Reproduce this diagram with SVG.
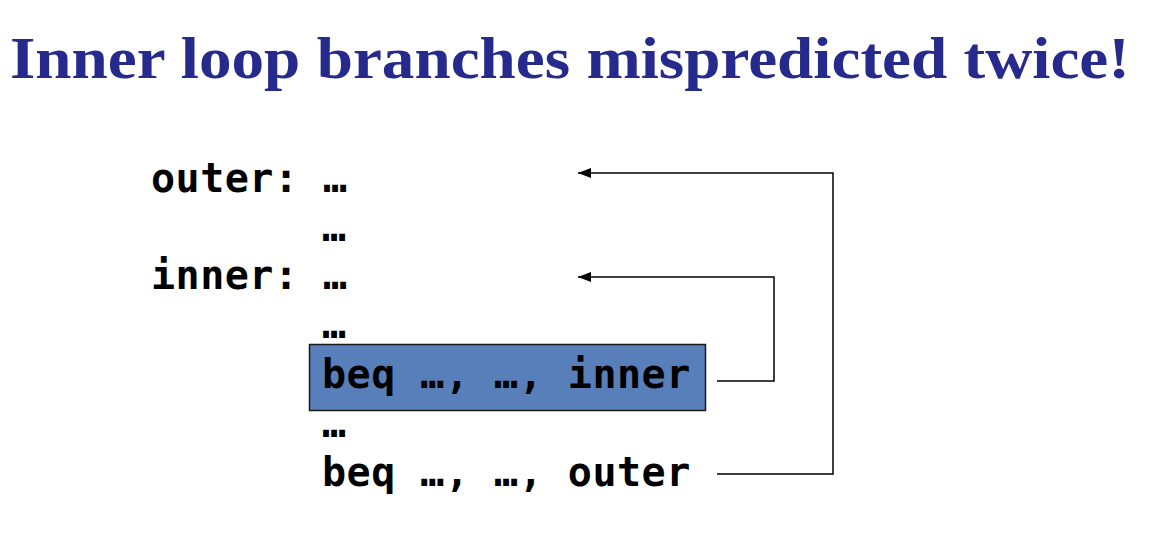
<svg xmlns="http://www.w3.org/2000/svg" width="1176" height="534" viewBox="0 0 1176 534">
<defs>
<style>
.title{font-family:"Liberation Serif","Times New Roman",serif;font-weight:bold;font-size:60px;fill:#262a8c}
.code{font-family:"DejaVu Sans Mono","Liberation Mono",monospace;font-weight:bold;font-size:40px;letter-spacing:0.5px;fill:#000;white-space:pre}
.conn{fill:none;stroke:#000;stroke-width:1.5}
</style>
<marker id="ah" markerWidth="14" markerHeight="12" refX="13" refY="6" orient="auto" markerUnits="userSpaceOnUse">
<path d="M0,1 L13,6 L0,11 Z" fill="#000"/>
</marker>
</defs>
<rect width="1176" height="534" fill="#fff"/>
<text class="title" x="10" y="78" textLength="1120" lengthAdjust="spacingAndGlyphs">Inner loop branches mispredicted twice!</text>
<g id="line-outer"><text class="code" x="151" y="192" xml:space="preserve">outer: …</text></g>
<g id="line-dots1"><text class="code" x="322" y="241">…</text></g>
<g id="line-inner"><text class="code" x="151" y="289" xml:space="preserve">inner: …</text></g>
<g id="line-dots2"><text class="code" x="322" y="338">…</text></g>
<g id="beq-inner">
<rect x="309.5" y="344.5" width="396" height="66" fill="#587fb9" stroke="#1a1a1a" stroke-width="1.5"/>
<text class="code" x="322" y="388" xml:space="preserve">beq …, …, inner</text>
</g>
<g id="line-dots3"><text class="code" x="322" y="437">…</text></g>
<g id="beq-outer"><text class="code" x="322" y="486" xml:space="preserve">beq …, …, outer</text></g>
<g id="connectors">
<path class="conn" d="M717,381 H774 V277 H578" marker-end="url(#ah)"/>
<path class="conn" d="M717,474 H833 V173 H578" marker-end="url(#ah)"/>
</g>
</svg>
